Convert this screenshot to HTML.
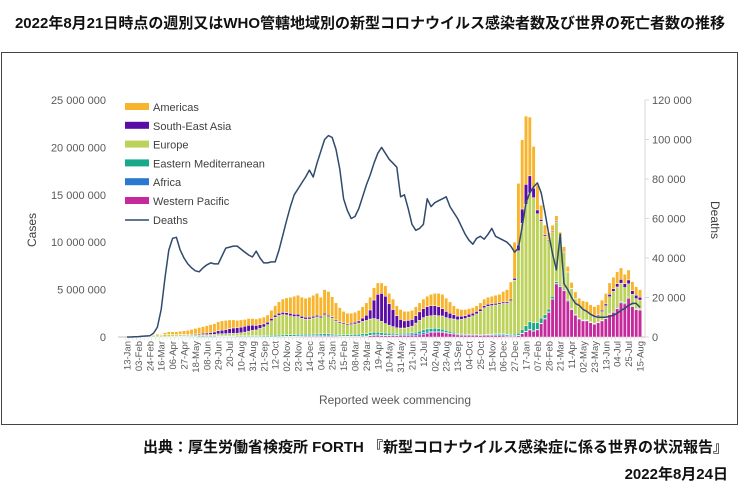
<!DOCTYPE html>
<html><head><meta charset="utf-8">
<style>
body{margin:0;background:#fff;width:740px;height:500px;overflow:hidden;font-family:"Liberation Sans","Noto Sans CJK JP",sans-serif;}
#title{position:absolute;left:0;top:12px;width:740px;text-align:center;font-size:15px;font-weight:bold;color:#111;}
#frame{position:absolute;left:1px;top:52px;width:735px;height:371px;border:1px solid #444;}
#src{position:absolute;right:12px;top:436px;font-size:15px;font-weight:bold;color:#111;}
#date{position:absolute;right:12px;top:463px;font-size:15px;font-weight:bold;color:#111;}
svg{position:absolute;left:0;top:0;}
</style></head><body>
<div id="title">2022年8月21日時点の週別又はWHO管轄地域別の新型コロナウイルス感染者数及び世界の死亡者数の推移</div>
<div id="frame"></div>
<div id="src">出典：厚生労働省検疫所 FORTH 『新型コロナウイルス感染症に係る世界の状況報告』</div>
<div id="date">2022年8月24日</div>
<svg id="chart" width="740" height="500"></svg>
<script>
const tickLabels=["13-Jan","03-Feb","24-Feb","16-Mar","06-Apr","27-Apr","18-May","08-Jun","29-Jun","20-Jul","10-Aug","31-Aug","21-Sep","12-Oct","02-Nov","23-Nov","14-Dec","04-Jan","25-Jan","15-Feb","08-Mar","29-Mar","19-Apr","10-May","31-May","21-Jun","12-Jul","02-Aug","23-Aug","13-Sep","04-Oct","25-Oct","15-Nov","06-Dec","27-Dec","17-Jan","07-Feb","28-Feb","21-Mar","11-Apr","02-May","23-May","13-Jun","04-Jul","25-Jul","15-Aug"];
const leftTicks=[0,5,10,15,20,25];
const rightTicks=[0,20,40,60,80,100,120];
// cases in millions, per WHO region, weekly
const westernPacific=[0,.01,.02,.02,.01,.01,.01,.01,.01,.01,.01,.01,.01,0,.01,.01,.01,0,0,0,0,0,0,0,.02,.02,.03,.04,.03,.02,.02,.02,.02,.02,.02,.02,.02,.02,.02,.02,.03,.03,.04,.04,.05,.06,.06,.07,.07,.07,.07,.07,.07,.08,.07,.07,.05,.05,.05,.06,.06,.06,.08,.06,.14,.17,.18,.15,.15,.15,.16,.15,.17,.16,.16,.18,.18,.22,.3,.38,.45,.5,.52,.48,.42,.37,.31,.22,.2,.19,.2,.19,.2,.17,.18,.18,.16,.14,.13,.12,.1,.1,.1,.14,.35,.55,.75,.6,.75,1.4,1.9,2.6,4.0,5.6,5.3,4.9,3.8,2.9,2.3,1.9,1.7,1.7,1.5,1.35,1.5,1.7,1.95,2.35,2.6,3.0,3.6,3.5,4.1,3.2,2.9,2.85];
const africa=[0,0,0,0,0,0,0,0,0,0,0,0,0,.01,.01,.01,.01,.02,.02,.03,.04,.04,.05,.05,.06,.06,.05,.04,.04,.03,.03,.03,.03,.03,.03,.03,.02,.02,.02,.02,.02,.03,.03,.03,.04,.05,.06,.07,.08,.09,.1,.12,.12,.12,.1,.08,.06,.05,.04,.04,.04,.04,.05,.05,.05,.05,.05,.05,.05,.05,.06,.06,.08,.1,.12,.14,.16,.17,.17,.15,.12,.1,.08,.07,.06,.05,.04,.03,.02,.02,.02,.02,.02,.02,.03,.05,.09,.12,.14,.15,.12,.1,.08,.06,.05,.05,.05,.05,.05,.05,.05,.05,.04,.04,.03,.03,.03,.02,.03,.04,.05,.05,.05,.04,.03,.03,.03,.03,.03,.03,.03,.02,.02,.02,.02,.02];
const eastMed=[0,0,0,0,.01,.01,.01,.01,.01,.01,.02,.03,.04,.05,.07,.07,.08,.08,.08,.09,.09,.08,.08,.08,.08,.08,.08,.08,.08,.08,.08,.09,.1,.1,.1,.11,.12,.12,.13,.14,.15,.16,.16,.17,.17,.17,.16,.15,.15,.15,.15,.14,.15,.15,.14,.13,.12,.13,.14,.16,.18,.2,.22,.24,.26,.28,.27,.25,.22,.2,.18,.16,.15,.14,.14,.15,.18,.23,.28,.32,.33,.33,.3,.27,.22,.18,.15,.12,.1,.09,.08,.08,.07,.07,.07,.07,.07,.07,.07,.07,.07,.08,.12,.2,.4,.6,.8,.85,.7,.55,.4,.3,.25,.2,.15,.12,.1,.08,.07,.06,.05,.05,.05,.05,.05,.05,.06,.07,.08,.1,.1,.1,.1,.09,.08,.08];
const europe=[0,0,0,0,0,0,.05,.15,.2,.13,.22,.25,.2,.16,.14,.13,.12,.12,.13,.13,.13,.13,.14,.15,.17,.18,.2,.22,.25,.27,.32,.38,.47,.55,.6,.75,.9,1.15,1.55,1.9,2.08,2.15,2.1,2.0,1.9,1.88,1.7,1.6,1.6,1.7,1.8,1.7,2.0,1.8,1.7,1.4,1.25,1.15,1.05,1.05,1.1,1.18,1.3,1.4,1.45,1.45,1.35,1.2,1.0,.85,.7,.6,.55,.55,.6,.68,.95,1.15,1.3,1.35,1.35,1.35,1.35,1.4,1.35,1.35,1.4,1.45,1.55,1.65,1.8,1.95,2.15,2.45,2.8,2.95,3.0,3.05,3.1,3.2,3.25,3.55,5.7,8.7,11.2,12.8,13.6,13.2,11.5,10.2,8.3,7.2,6.8,6.3,5.0,3.9,2.9,2.1,1.6,1.25,1.05,.9,.72,.62,.66,.9,1.25,1.8,2.1,2.15,1.95,1.6,1.4,1.2,1.05,.95];
const seAsia=[0,0,0,0,0,0,0,0,0,0,0,.01,.02,.03,.04,.05,.06,.08,.09,.11,.14,.17,.2,.25,.32,.38,.43,.5,.55,.57,.6,.61,.61,.55,.47,.39,.32,.26,.24,.23,.22,.23,.24,.25,.24,.24,.22,.2,.2,.19,.18,.17,.16,.15,.13,.12,.12,.12,.12,.14,.17,.22,.35,.55,.95,1.95,2.65,2.95,2.88,2.25,1.8,1.28,.9,.75,.73,.7,.78,.88,.95,1.0,1.05,1.02,.95,.78,.65,.55,.45,.38,.33,.3,.3,.28,.26,.24,.22,.2,.18,.17,.16,.16,.16,.17,.2,.6,1.5,2.1,1.8,1.0,.4,.2,.15,.1,.1,.1,.08,.07,.06,.05,.05,.05,.06,.07,.08,.1,.12,.16,.2,.25,.3,.35,.4,.4,.4,.38,.35,.3];
const americas=[0,0,0,0,0,0,0,.05,.1,.1,.2,.25,.28,.3,.33,.38,.42,.5,.58,.64,.7,.78,.83,.87,.95,.98,.96,.92,.85,.78,.75,.72,.72,.7,.68,.7,.72,.75,.85,1.0,1.2,1.4,1.55,1.7,1.9,2.0,2.0,2.0,2.1,2.2,2.3,2.0,2.5,2.5,2.1,1.8,1.5,1.2,1.1,1.05,1.05,1.1,1.2,1.3,1.35,1.3,1.2,1.1,1.1,1.1,1.1,1.05,1.05,1.0,.95,.95,.95,.95,1.0,1.1,1.2,1.3,1.4,1.5,1.4,1.2,.95,.8,.7,.65,.6,.58,.6,.65,.7,.75,.8,.85,.9,1.1,1.3,1.8,3.8,6.5,7.3,7.2,6.2,4.4,2.6,1.5,1.0,.75,.6,.55,.5,.5,.55,.6,.7,.8,.9,.95,1.0,1.05,1.05,1.05,1.1,1.2,1.2,1.25,1.2,1.0,1.05,.95,.9,.8];
// deaths in thousands, weekly
const deaths=[0,0,.1,.2,.4,.5,.6,2,5,14,30,44,50,50.5,44,40,37,35,33.5,33,35,36.5,37.5,37,37,41,45,45.5,46,46,44.5,43,41.5,40.5,43.5,40,37.5,37.5,38,38,44,51.5,59,66,72,75,78,81,84.5,81,88,94,100,102,101,95,85,70,64,60,61,65,71,77,82,88,93,96,93,90,88,86,71,72,65,57,54,55,57,70,66,68,69,70,71,66,63,60,56,52,49,47,50,51,49.5,52,55,51,50,49,48,46,43,45,56,68,73,76,78,73,63,52,42,34,52,27,24,20,17,16,14,13,11.5,10.5,10,10,10,10.5,11,12,13.5,14.5,16,17,17,15];

const NS='http://www.w3.org/2000/svg';
const svg=document.getElementById('chart');
const X0=127,DX=3.8,Y0=337,YT=100;
const xPos=i=>X0+i*DX;
const yCases=v=>Y0-(v/25)*(Y0-YT);
const yDeaths=v=>Y0-(v/120)*(Y0-YT);
function mk(tag,attrs,parent){const e=document.createElementNS(NS,tag);for(const k in attrs)e.setAttribute(k,attrs[k]);(parent||svg).appendChild(e);return e;}
function txt(s,attrs){const t=mk('text',attrs);t.textContent=s;return t;}

const ax=mk('line',{x1:118,y1:Y0,x2:645,y2:Y0,stroke:'#bfbfbf','stroke-width':1});


const ra=mk('line',{x1:645,y1:YT,x2:645,y2:Y0,stroke:'#d9d9d9','stroke-width':1});


leftTicks.forEach(v=>{
  const t=txt(v===0?'0':(v*1000000).toLocaleString('en-US').replace(/,/g,' '),{x:106,y:yCases(v)+4,'text-anchor':'end','font-size':11,fill:'#595959','font-family':'Liberation Sans, sans-serif'});
  
  
});
rightTicks.forEach(v=>{
  const t=txt(v===0?'0':(v*1000).toLocaleString('en-US').replace(/,/g,' '),{x:652,y:yDeaths(v)+4,'text-anchor':'start','font-size':11,fill:'#595959','font-family':'Liberation Sans, sans-serif'});
  
  
  mk('line',{x1:645,y1:yDeaths(v),x2:649,y2:yDeaths(v),stroke:'#d9d9d9'});
});
tickLabels.forEach((s,k)=>{
  const x=xPos(k*3);
  const t=txt(s,{x:0,y:0,'text-anchor':'end','font-size':9.5,fill:'#595959',transform:`translate(${x+3.5},341) rotate(-90)`,'font-family':'Liberation Sans, sans-serif'});
  
  
});
for(let i=0;i<=deaths.length;i++){mk('line',{x1:X0-DX/2+i*DX,y1:Y0,x2:X0-DX/2+i*DX,y2:Y0+3,stroke:'#d9d9d9','stroke-width':0.6});}
const yl=txt('Cases',{x:0,y:0,transform:'translate(36,230) rotate(-90)','text-anchor':'middle','font-size':12,fill:'#404040'});


const yr=txt('Deaths',{x:0,y:0,transform:'translate(711,220) rotate(90)','text-anchor':'middle','font-size':12,fill:'#404040'});


const xl=txt('Reported week commencing',{x:395,y:404,'text-anchor':'middle','font-size':12,fill:'#595959'});



const series=[
 {name:'western-pacific',data:westernPacific,color:'#c6299b'},
 {name:'africa',data:africa,color:'#2b78d0'},
 {name:'eastern-mediterranean',data:eastMed,color:'#18a88a'},
 {name:'europe',data:europe,color:'#bcd25a'},
 {name:'south-east-asia',data:seAsia,color:'#5a0ca6'},
 {name:'americas',data:americas,color:'#f8b42c'}
];
const bw=3.3;
for(let i=0;i<deaths.length;i++){
  let acc=0;
  series.forEach(s=>{
    const v=s.data[i];if(!v)return;
    const y1=yCases(acc),y2=yCases(acc+v);acc+=v;
    const r=mk('rect',{x:xPos(i)-bw/2,y:y2,width:bw,height:Math.max(y1-y2,0.3),fill:s.color,stroke:'#fff','stroke-width':0.4});
    
    
  });
}
const pts=deaths.map((v,i)=>xPos(i).toFixed(1)+','+yDeaths(v).toFixed(1)).join(' ');
const pl=mk('polyline',{points:pts,fill:'none',stroke:'#2f4a6d','stroke-width':1.5,'stroke-linejoin':'round'});



const leg=[['Americas','#f8b42c'],['South-East Asia','#5a0ca6'],['Europe','#bcd25a'],['Eastern Mediterranean','#18a88a'],['Africa','#2b78d0'],['Western Pacific','#c6299b']];
leg.forEach((e,k)=>{
  const y=107+k*18.8;
  const r=mk('rect',{x:125,y:y-4,width:24,height:7,fill:e[1]});
  
  
  const t=txt(e[0],{x:153,y:y+4,'font-size':11,fill:'#404040'});
  
  
});
const dl=mk('line',{x1:125,y1:220,x2:149,y2:220,stroke:'#2f4a6d','stroke-width':1.5});


const dt=txt('Deaths',{x:153,y:224,'font-size':11,fill:'#404040'});


</script>
</body></html>
